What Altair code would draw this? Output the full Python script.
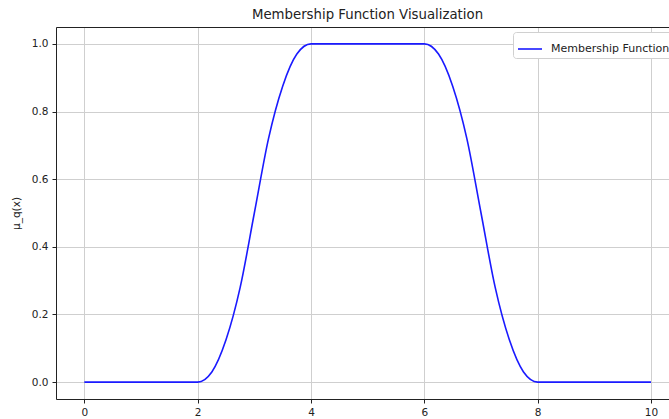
import altair as alt
import pandas as pd

xs = [0.0, 0.25, 0.5, 0.75, 1.0, 1.25, 1.5, 1.75, 2.0,
      2.25, 2.5, 2.75, 3.0, 3.25, 3.5, 3.75, 4.0,
      4.25, 4.5, 4.75, 5.0, 5.25, 5.5, 5.75, 6.0,
      6.25, 6.5, 6.75, 7.0, 7.25, 7.5, 7.75, 8.0,
      8.25, 8.5, 8.75, 9.0, 9.25, 9.5, 9.75, 10.0]
ys = [0, 0, 0, 0, 0, 0, 0, 0, 0,
      0.03, 0.125, 0.28, 0.5, 0.72, 0.875, 0.97, 1.0,
      1.0, 1.0, 1.0, 1.0, 1.0, 1.0, 1.0, 1.0,
      0.97, 0.875, 0.72, 0.5, 0.28, 0.125, 0.03, 0.0,
      0, 0, 0, 0, 0, 0, 0, 0]
series = "Membership Function"
x_ticks = [0, 2, 4, 6, 8, 10]
y_ticks = [0.0, 0.2, 0.4, 0.6, 0.8, 1.0]

df = pd.DataFrame({"x": xs, "y": ys, "series": [series] * len(xs)})

FONT = "DejaVu Sans"
xscale = alt.Scale(domain=[-0.5, 10.317], nice=False, zero=False)
yscale = alt.Scale(domain=[-0.05, 1.05], nice=False, zero=False)

line = alt.Chart(df).mark_line(strokeWidth=1.6, interpolate="monotone", clip=True).encode(
    x=alt.X("x:Q", scale=xscale,
            axis=alt.Axis(values=x_ticks, format="d", title=None, grid=True,
                          gridColor="#cfcfcf", gridWidth=1,
                          domainColor="#222222", tickColor="#222222", tickSize=4,
                          labelColor="#222222", labelFontSize=10.5, labelFont=FONT,
                          labelPadding=4)),
    y=alt.Y("y:Q", scale=yscale,
            axis=alt.Axis(values=y_ticks, format=".1f", title="μ_q(x)", grid=True,
                          gridColor="#cfcfcf", gridWidth=1,
                          domainColor="#222222", tickColor="#222222", tickSize=4,
                          labelColor="#222222", labelFontSize=10.5, labelFont=FONT,
                          labelPadding=4, titleFont=FONT, titleFontSize=10.5,
                          titleFontWeight="normal", titleColor="#222222", titlePadding=10)),
    color=alt.Color("series:N", scale=alt.Scale(range=["#1a1aff"]),
                    legend=alt.Legend(title=None, orient="none", legendX=457, legendY=5,
                                      symbolType="stroke", symbolSize=576,
                                      symbolStrokeWidth=1.6, labelFont=FONT,
                                      labelFontSize=11, labelColor="#222222",
                                      labelOffset=8, padding=4,
                                      strokeColor="#d0d0d0", fillColor="white",
                                      cornerRadius=3)),
)

top = alt.Chart(df).mark_line(strokeOpacity=0).encode(
    x=alt.X("x:Q", scale=xscale,
            axis=alt.Axis(orient="top", labels=False, ticks=False, grid=False,
                          domainColor="#222222", title=None)),
)

chart = alt.layer(line, top).resolve_axis(x="independent").properties(
    width=613,
    height=372,
    title=alt.TitleParams("Membership Function Visualization", font=FONT, fontSize=13.3,
                          fontWeight="normal", color="#222222", offset=6, dx=5),
    autosize=alt.AutoSizeParams(type="none"),
    padding={"left": 56, "top": 27, "right": 0, "bottom": 20},
).configure_view(stroke=None).configure(background="white")

chart.save("out.html", embed_options={"renderer": "svg", "actions": False})
